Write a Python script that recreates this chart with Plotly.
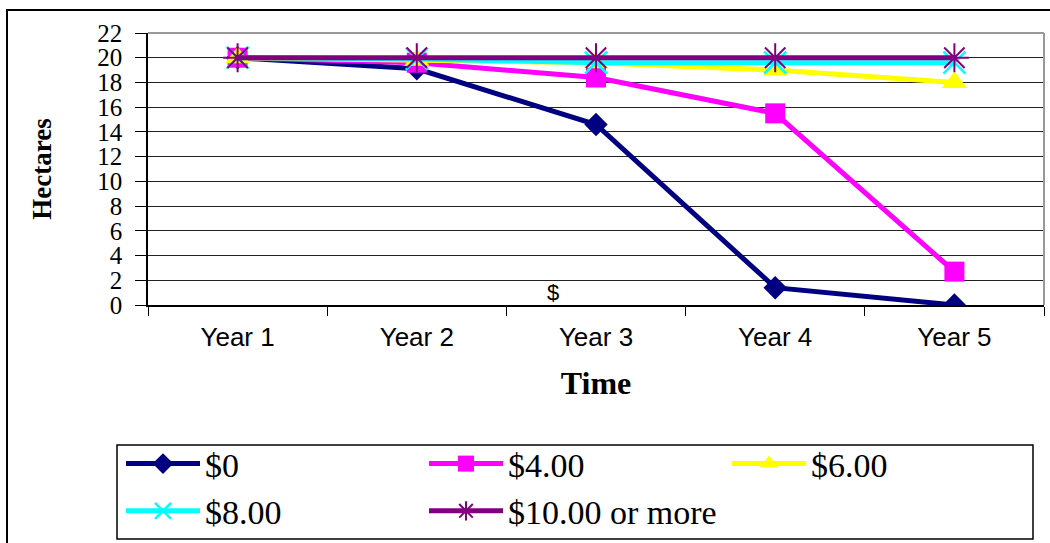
import plotly.graph_objects as go

years = ["Year 1", "Year 2", "Year 3", "Year 4", "Year 5"]
s0 = [20, 19.1, 14.6, 1.4, 0]
s4 = [20, 19.6, 18.4, 15.5, 2.7]
s6 = [20, 19.8, 19.6, 19.0, 18.0]
s8 = [20, 19.9, 19.6, 19.6, 19.6]
s10 = [20, 20, 20, 20, 20]
names = ["$0", "$4.00", "$6.00", "$8.00", "$10.00 or more"]

W, H = 1050, 543
L, R, T, B = 148, 1044, 33, 305
pw, ph = R - L, B - T

def px(x):
    return (x - L) / pw

def py(y):
    return (B - y) / ph

fig = go.Figure()
specs = [
    (s0, "#000080", dict(symbol="diamond", size=18, color="#000080")),
    (s4, "#FF00FF", dict(symbol="square", size=20, color="#FF00FF")),
    (s6, "#FFFF00", dict(symbol="triangle-up", size=22, color="#FFFF00")),
    (s8, "#00FFFF", dict(symbol="x-thin-open", size=22, color="#00FFFF", line=dict(width=2.5, color="#00FFFF"))),
    (s10, "#800080", dict(symbol="asterisk-open", size=24, color="#800080", line=dict(width=2, color="#800080"))),
]
for (vals, col, mk), nm in zip(specs, names):
    fig.add_trace(go.Scatter(x=years, y=vals, name=nm, mode="lines+markers",
                             line=dict(color=col, width=5), marker=mk))

fig.add_annotation(x=1.76, y=1.05, text="$", showarrow=False,
                   font=dict(family="Liberation Sans", size=22, color="black"))

shapes = [
    # outer border
    dict(type="rect", xref="paper", yref="paper", x0=px(7), x1=px(1060), y0=py(560), y1=py(10),
         line=dict(color="black", width=2), layer="below"),
    # legend box
    dict(type="rect", xref="paper", yref="paper", x0=px(117), x1=px(1033), y0=py(539), y1=py(445),
         line=dict(color="black", width=1.5), layer="below"),
    # plot area gray border top/right
    dict(type="line", xref="paper", yref="paper", x0=0, x1=1, y0=1, y1=1,
         line=dict(color="#999999", width=2)),
    dict(type="line", xref="paper", yref="paper", x0=1, x1=1, y0=0, y1=1,
         line=dict(color="#999999", width=2)),
]

fig.update_layout(
    width=W, height=H,
    margin=dict(l=L, r=W - R, t=T, b=H - B, autoexpand=False),
    paper_bgcolor="white", plot_bgcolor="white",
    shapes=shapes,
    showlegend=True,
    legend=dict(orientation="h", x=px(121), y=py(435), xanchor="left", yanchor="top",
                bgcolor="rgba(0,0,0,0)", borderwidth=0, entrywidth=214, entrywidthmode="pixels",
                font=dict(family="Liberation Serif", size=34, color="black"),
                itemwidth=74, traceorder="normal"),
    xaxis=dict(type="category", range=[-0.5, 4.5], showline=True, linecolor="black", linewidth=1.5,
               ticks="outside", tickson="boundaries", ticklen=9, tickcolor="black",
               showgrid=False, ticklabelstandoff=8,
               tickfont=dict(family="Liberation Sans", size=26, color="black"),
               title=dict(text="<b>Time</b>", font=dict(family="Liberation Serif", size=32, color="black"),
                          standoff=21)),
    yaxis=dict(range=[0, 22], dtick=2, showline=True, linecolor="black", linewidth=1.5,
               ticks="outside", ticklen=11, tickcolor="black", ticklabelstandoff=8,
               showgrid=True, gridcolor="#222222", gridwidth=1, zeroline=False,
               tickfont=dict(family="Liberation Serif", size=25, color="black"),
               title=dict(text="<b>Hectares</b>", font=dict(family="Liberation Serif", size=27, color="black"),
                          standoff=38)),
)

fig.write_html("out.html", post_script="document.body.style.margin='0';",
               config={"displayModeBar": False})
